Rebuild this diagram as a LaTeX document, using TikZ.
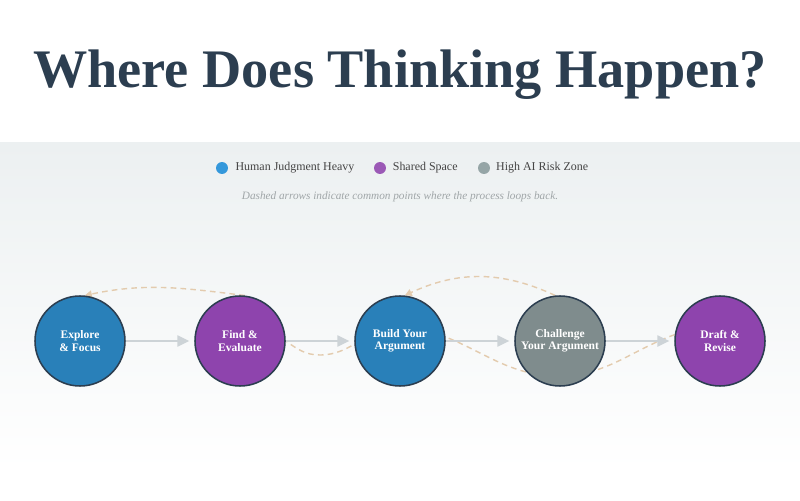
\documentclass[tikz,border=0pt]{standalone}
\usepackage{fontspec}
\setmainfont{Liberation Serif}
\usetikzlibrary{arrows.meta,backgrounds,positioning}

\definecolor{navy}{HTML}{2C3E50}
\definecolor{humanblue}{HTML}{2980B9}
\definecolor{sharedpurple}{HTML}{8E44AD}
\definecolor{riskgrey}{HTML}{7F8C8D}
\definecolor{dotblue}{HTML}{3498DB}
\definecolor{dotpurple}{HTML}{9B59B6}
\definecolor{dotgrey}{HTML}{95A5A6}
\definecolor{flowgrey}{HTML}{CDD3D7}
\definecolor{loopbeige}{HTML}{E3CBAE}
\definecolor{panel}{HTML}{ECF0F1}
\definecolor{legendtext}{HTML}{444444}
\definecolor{notegrey}{HTML}{A0A6A8}

\begin{document}
\begin{tikzpicture}[x=0.025cm,y=0.025cm,
		stage/.style={circle,draw=navy,line width=1.1pt,minimum size=64pt,inner sep=0pt,
			text=white,align=center,font=\bfseries\fontsize{8.2}{8.8}\selectfont},
		dot/.style={circle,minimum size=8.5pt,inner sep=0pt},
		legend/.style={inner sep=0pt,text=legendtext,font=\fontsize{8.5}{10}\selectfont},
		flow/.style={draw=flowgrey,line width=1pt,-{Triangle[length=8.5pt,width=8pt]},shorten >=3.5pt},
		loop back/.style={draw=loopbeige,line width=1pt,dash pattern=on 4pt off 3pt,
			-{Triangle[length=5pt,width=5pt]}}]
		\useasboundingbox (0,0) rectangle (800,500);

		% title and legend
		\draw (400,412) node [anchor=base,text=navy,font=\bfseries\fontsize{38.6}{40}\selectfont] (title) {Where Does Thinking Happen?};
		\draw (222,332) node [dot,fill=dotblue] (hdot) {};
		\draw (380,332) node [dot,fill=dotpurple] (sdot) {};
		\draw (484,332) node [dot,fill=dotgrey] (rdot) {};
		\node [legend,right=5pt of hdot] (hlabel) {Human Judgment Heavy};
		\node [legend,right=4.5pt of sdot] (slabel) {Shared Space};
		\node [legend,right=4pt of rdot] (rlabel) {High AI Risk Zone};
		\draw (400,300) node [anchor=base,text=notegrey,font=\itshape\fontsize{8}{10}\selectfont] (note)
			{Dashed arrows indicate common points where the process loops back.};

		% stages
		\draw (80,159) node [stage,fill=humanblue] (explore) {Explore\\\& Focus};
		\draw (240,159) node [stage,fill=sharedpurple] (find) {Find \&\\Evaluate};
		\draw (400,159) node [stage,fill=humanblue] (build) {Build Your\\Argument};
		\draw (560,159) node [stage,fill=riskgrey] (challenge) {Challenge\\Your Argument};
		\draw (720,159) node [stage,fill=sharedpurple] (draft) {Draft \&\\Revise};

		\coordinate (dipA) at (558,124);
		\coordinate (crest) at (398,172);
		\coordinate (dipB) at (320,145);

		\draw
			(explore) edge [flow] (find)
			(find) edge [flow] (build)
			(build) edge [flow] (challenge)
			(challenge) edge [flow] (draft)
		;

		\begin{scope}[on background layer]
			\fill [white] (0,0) rectangle (800,500);
			\shade [top color=panel,bottom color=white] (0,30) rectangle (800,357);
			\draw
				(find.84) edge [loop back,out=173,in=12] (explore.84)
				(challenge.96) edge [loop back,out=155,in=25] (build.84)
			;
			\draw [loop back] (draft.172) to [out=200,in=0] (dipA) to [out=180,in=0] (crest)
				to [out=180,in=0] (dipB) to [out=180,in=-35] (find.east) -- (find.center);
		\end{scope}
	\end{tikzpicture}
\end{document}
